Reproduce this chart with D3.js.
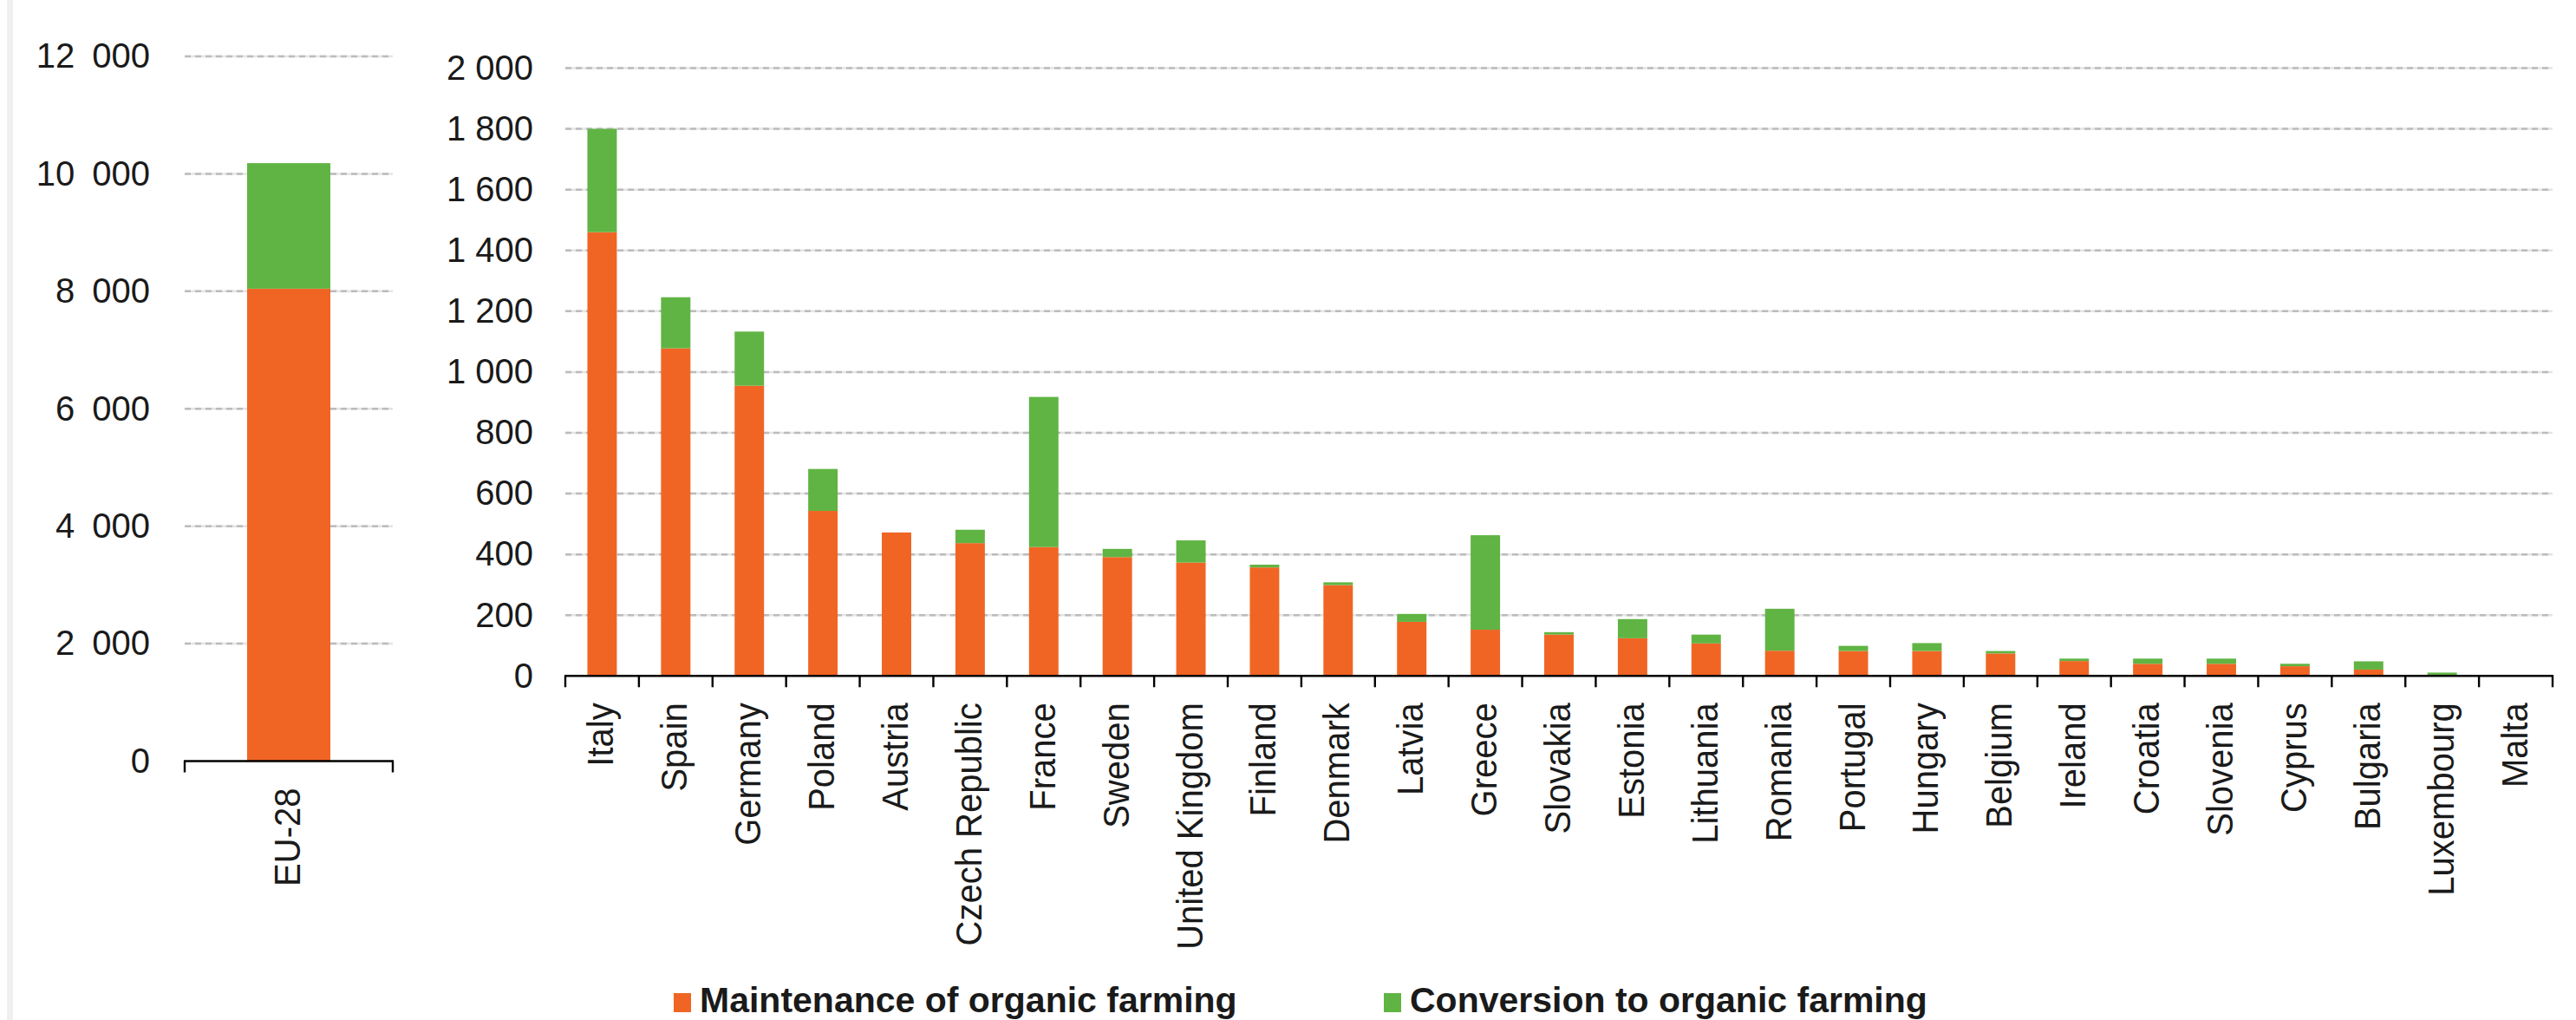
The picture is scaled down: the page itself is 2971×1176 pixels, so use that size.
<!DOCTYPE html>
<html>
<head>
<meta charset="utf-8">
<script src="https://cdn.jsdelivr.net/npm/d3@7"></script>
<style>
  html, body { margin: 0; padding: 0; background: #ffffff; }
  svg { display: block; }
  text { font-family: "Liberation Sans", Arial, Helvetica, sans-serif; fill: #1a1a1a; }
</style>
</head>
<body>
<svg id="chart" width="2971" height="1176"></svg>
<script>
// Organic farming support by Member State (thousand hectares), stacked by measure
const seriesNames = ["Maintenance of organic farming", "Conversion to organic farming"];
const seriesColors = ["#F06524", "#60B443"];

// EU aggregate
const euCategories = ["EU-28"];
const euMaintenance = [8044];
const euConversion = [2138];
const euTicks = [0, 2000, 4000, 6000, 8000, 10000, 12000];

// Member States
const countries = [
  "Italy", "Spain", "Germany", "Poland", "Austria", "Czech Republic", "France",
  "Sweden", "United Kingdom", "Finland", "Denmark", "Latvia", "Greece", "Slovakia",
  "Estonia", "Lithuania", "Romania", "Portugal", "Hungary", "Belgium", "Ireland",
  "Croatia", "Slovenia", "Cyprus", "Bulgaria", "Luxembourg", "Malta"
];
const maintenance = [
  1460, 1078, 955, 543, 472, 437, 424,
  391, 373, 357, 299, 178, 152, 136,
  124, 107, 83, 82, 82, 74, 49,
  40, 40, 32, 21, 1, 0
];
const conversion = [
  340, 168, 178, 138, 0, 44, 494,
  27, 73, 9, 9, 26, 311, 8,
  63, 29, 138, 17, 26, 8, 8,
  17, 17, 8, 27, 10, 0
];
const countryTicks = [0, 200, 400, 600, 800, 1000, 1200, 1400, 1600, 1800, 2000];

const svg = d3.select("#chart");
const keys = ["maintenance", "conversion"];
const color = d3.scaleOrdinal().domain(keys).range(seriesColors);
const stack = d3.stack().keys(keys);

// thin grey frame strip on the left edge
svg.append("rect").attr("x", 8).attr("y", 0).attr("width", 7).attr("height", 1176).attr("fill", "#f0f0f0");

const spaceFmt = sep => {
  const loc = d3.formatLocale({ decimal: ".", thousands: sep, grouping: [3], currency: ["", ""] });
  return loc.format(",");
};

function drawPanel(opts) {
  const { cats, m, c, ticks, x0, x1, yTop, yBase, labelRight, fmt, endTicksOnly } = opts;
  const rows = cats.map((name, i) => ({ name, maintenance: m[i], conversion: c[i] }));
  const x = d3.scaleBand().domain(cats).range([x0, x1]).paddingInner(0.6).paddingOuter(0.3);
  const y = d3.scaleLinear().domain([0, d3.max(ticks)]).range([yBase, yTop]);
  const g = svg.append("g");

  // dashed horizontal gridlines
  const grid = g.append("g");
  ticks.filter(t => t > 0).forEach(t => {
    grid.append("line").attr("x1", x0).attr("x2", x1).attr("y1", y(t)).attr("y2", y(t))
      .attr("stroke", "#e4e4e4").attr("stroke-width", 2.5);
    grid.append("line").attr("x1", x0).attr("x2", x1).attr("y1", y(t)).attr("y2", y(t))
      .attr("stroke", "#bcbcbc").attr("stroke-width", 2.5).attr("stroke-dasharray", "7 5");
  });

  // value axis labels
  const yAxis = d3.axisLeft(y).tickValues(ticks).tickSize(0).tickPadding(0).tickFormat(fmt);
  const ya = g.append("g").attr("transform", `translate(${labelRight},0)`).call(yAxis);
  ya.select(".domain").remove();
  ya.selectAll("text").attr("font-size", 40).attr("fill", "#1a1a1a")
    .style("font-family", '"Liberation Sans", Arial, sans-serif');

  // stacked bars
  const series = stack(rows);
  g.append("g").selectAll("g").data(series).join("g")
    .attr("fill", d => color(d.key))
    .selectAll("rect").data(d => d).join("rect")
    .attr("x", d => x(d.data.name))
    .attr("width", x.bandwidth())
    .attr("y", d => y(d[1]))
    .attr("height", d => Math.max(0, y(d[0]) - y(d[1])));

  // category axis line and tick marks between categories
  g.append("line").attr("x1", x0 - 1).attr("x2", x1 + 1).attr("y1", yBase).attr("y2", yBase)
    .attr("stroke", "#000").attr("stroke-width", 2.6);
  const step = x.step();
  const tickXs = endTicksOnly ? [x0, x1] : d3.range(cats.length + 1).map(i => x0 + i * step);
  g.append("g").selectAll("line").data(tickXs).join("line")
    .attr("x1", d => d).attr("x2", d => d)
    .attr("y1", yBase).attr("y2", yBase + 13)
    .attr("stroke", "#000").attr("stroke-width", 2.4);

  // rotated category labels
  g.append("g").selectAll("text").data(cats).join("text")
    .attr("transform", d => `translate(${x(d) + x.bandwidth() / 2 + 13},${yBase + 31}) rotate(-90) scale(1,1.08)`)
    .attr("text-anchor", "end")
    .attr("font-size", 40)
    .text(d => d);
}

drawPanel({
  cats: euCategories, m: euMaintenance, c: euConversion, ticks: euTicks,
  x0: 213, x1: 453, yTop: 65, yBase: 877.5, labelRight: 173,
  fmt: spaceFmt("\u2002"), endTicksOnly: true
});

drawPanel({
  cats: countries, m: maintenance, c: conversion, ticks: countryTicks,
  x0: 652, x1: 2944, yTop: 78.5, yBase: 779.3, labelRight: 615,
  fmt: spaceFmt("\u00a0"), endTicksOnly: false
});

// legend
const legend = svg.append("g");
const legendX = [777, 1596];
seriesNames.forEach((name, i) => {
  legend.append("rect").attr("x", legendX[i]).attr("y", 1145).attr("width", 20).attr("height", 22)
    .attr("fill", seriesColors[i]);
  legend.append("text").attr("x", legendX[i] + 30).attr("y", 1167)
    .attr("font-size", 41).attr("font-weight", "bold").attr("fill", "#111").text(name);
});
</script>
</body>
</html>
